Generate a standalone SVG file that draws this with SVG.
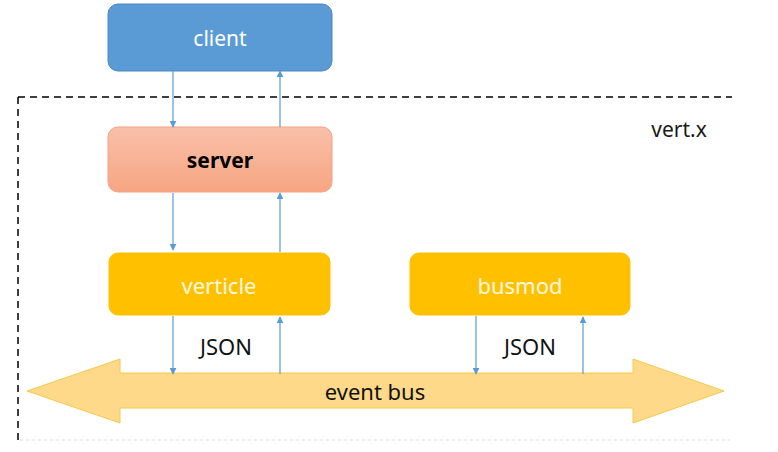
<svg xmlns="http://www.w3.org/2000/svg" width="778" height="452" viewBox="0 0 778 452">
<defs>
<linearGradient id="srv" x1="0" y1="0" x2="0" y2="1"><stop offset="0" stop-color="#f9c0aa"/><stop offset="1" stop-color="#f7a582"/></linearGradient>
<marker id="ah" viewBox="0 0 10 10" refX="9" refY="5" markerWidth="7" markerHeight="7" orient="auto" markerUnits="userSpaceOnUse"><path d="M0,0 L10,5 L0,10 z" fill="#5b9bd5"/></marker>
<style>
.lbl{font-family:"Noto Sans","Open Sans","Liberation Sans",sans-serif;font-size:22px;text-anchor:middle;dominant-baseline:central}
.c{stroke:#5b9bd5;stroke-width:1.2;fill:none;marker-end:url(#ah)}
.box{stroke-width:1}
</style>
</defs>
<rect width="778" height="452" fill="#fff"/>
<g id="boundary">
<path d="M18,97 H732" stroke="#000" stroke-width="1.5" stroke-dasharray="7,5" fill="none"/>
<path d="M18,97 V440" stroke="#000" stroke-width="1.5" stroke-dasharray="7,5" fill="none"/>
<path d="M20,440 H730" stroke="#ddd" stroke-width="1" stroke-dasharray="3,3" fill="none"/>
<text class="lbl" x="679" y="129" fill="#1a1a1a" style="font-size:21px">vert.x</text>
</g>
<g id="client"><rect x="108" y="4" width="224" height="67" rx="10" fill="#5b9bd5" stroke="#4a88c2" class="box"/><text class="lbl" x="220" y="38" fill="#fff" style="font-size:21px">client</text></g>
<g id="server"><rect x="108" y="127" width="224" height="65" rx="10" fill="url(#srv)" stroke="#f4a183" class="box"/><text class="lbl" x="220" y="160" fill="#000" font-weight="bold" style="font-size:21px">server</text></g>
<g id="verticle"><rect x="109" y="253" width="221" height="62" rx="9" fill="#ffc000" stroke="#ffc000" class="box"/><text class="lbl" x="219" y="285" fill="#fff8e0">verticle</text></g>
<g id="busmod"><rect x="410" y="253" width="220" height="62" rx="9" fill="#ffc000" stroke="#ffc000" class="box"/><text class="lbl" x="520" y="285" fill="#fff8e0">busmod</text></g>
<g id="eventbus"><path d="M27,391 L120,359 V373 H633 V359 L724,391 L633,423 V408 H120 V423 Z" fill="#fed98a" stroke="#f6c94a" stroke-width="1"/><text class="lbl" x="375" y="391" fill="#111">event bus</text></g>
<g id="connectors">
<path class="c" d="M173,71 V127"/>
<path class="c" d="M280,127 V71"/>
<path class="c" d="M173,193 V250"/>
<path class="c" d="M280,252 V193"/>
<path class="c" d="M173,316 V374"/>
<path class="c" d="M280,374 V317"/>
<path class="c" d="M476,316 V374"/>
<path class="c" d="M583,374 V317"/>
<text class="lbl" x="226" y="346" fill="#111">JSON</text>
<text class="lbl" x="530" y="346" fill="#111">JSON</text>
</g>
</svg>
